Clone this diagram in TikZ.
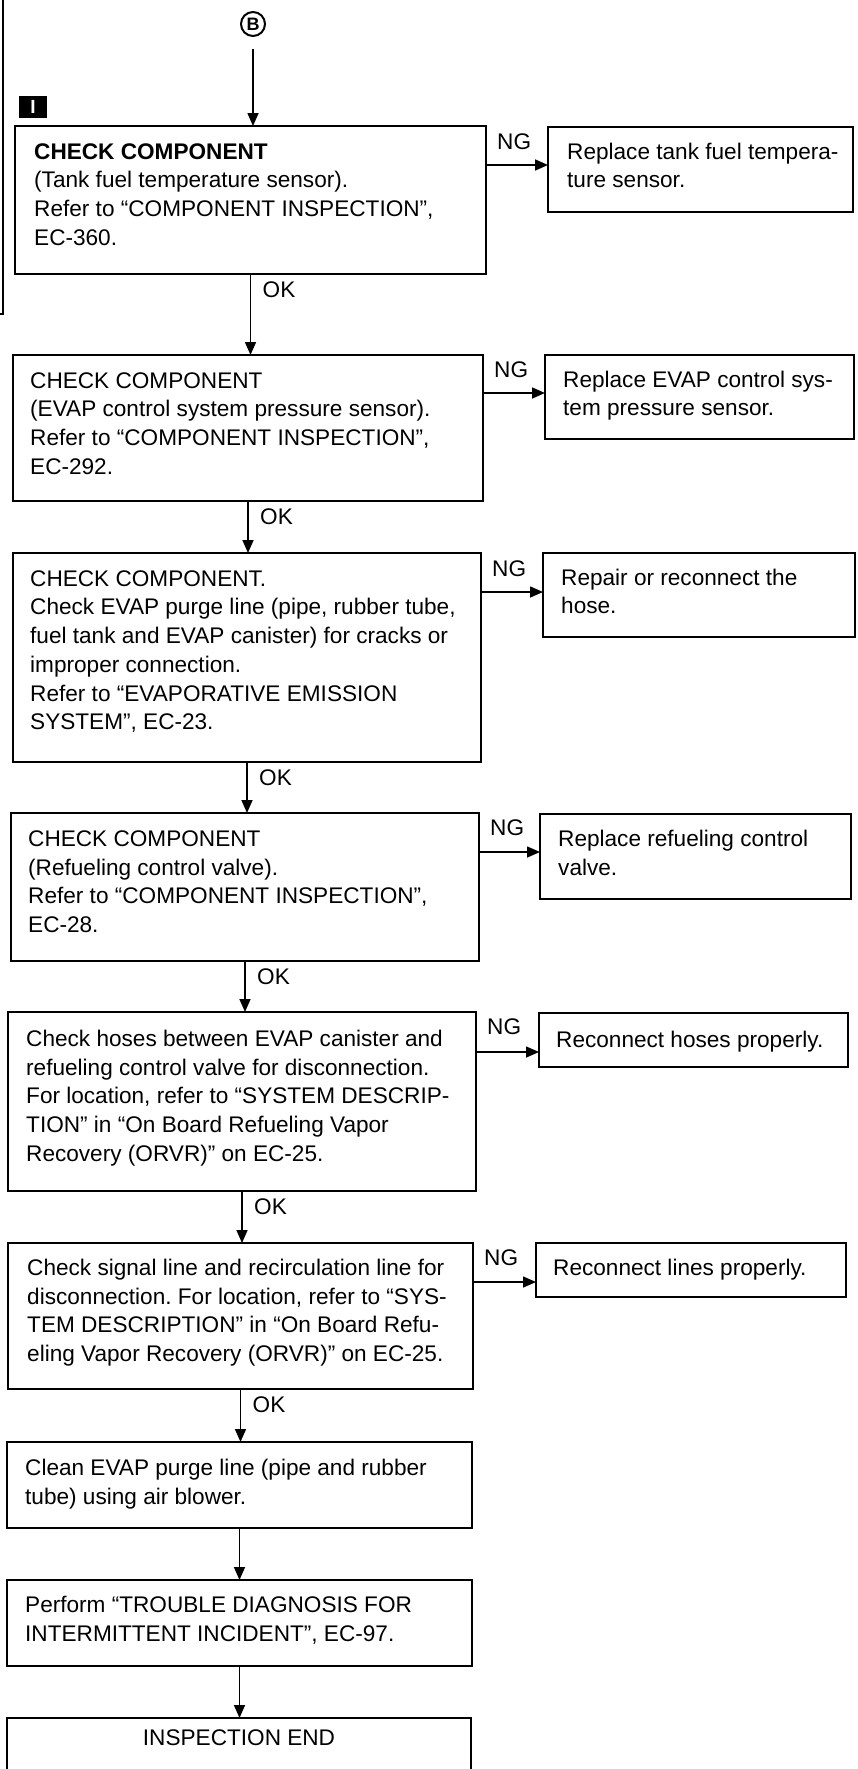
\documentclass[tikz,border=0pt]{standalone}
\usepackage{fontspec}
\setmainfont{Liberation Sans}
\usetikzlibrary{arrows.meta}
\newcommand\mainsz{\fontsize{22.6}{28.7}\selectfont\frenchspacing}
\begin{document}
\begin{tikzpicture}[x=1pt,y=-1pt,
  box/.style={draw, line width=2pt, anchor=north west, inner sep=0pt, outer sep=0pt},
  txt/.style={anchor=north west, align=left, inner sep=0pt, font=\mainsz},
  lbl/.style={inner sep=0pt, font=\mainsz},
  conn/.style={line width=1.6pt, -{Triangle[length=13pt,width=11pt]}}]
\useasboundingbox (0,0) rectangle (858,1769);
\clip (0,0) rectangle (858,1769);

% left bracket
\draw[line width=1.8pt] (0,314) -- (3,314) -- (3,0);

% connector B and marker
\node[circle, draw, line width=2pt, minimum size=24pt, inner sep=0pt,
      font=\fontsize{18}{18}\selectfont\bfseries] (B) at (253,24) {B};
\node[fill=black, minimum width=28pt, minimum height=22pt, inner sep=0pt,
      text=white, font=\fontsize{19}{19}\selectfont\bfseries] (mk) at (33,106.5) {I};

% main boxes
\node[box, minimum width=471pt, minimum height=148pt] (b1) at (15,126) {};
\node[box, minimum width=470pt, minimum height=146pt] (b2) at (13,355) {};
\node[box, minimum width=468pt, minimum height=209pt] (b3) at (13,553) {};
\node[box, minimum width=468pt, minimum height=148pt] (b4) at (11,813) {};
\node[box, minimum width=468pt, minimum height=179pt] (b5) at (8,1012) {};
\node[box, minimum width=465pt, minimum height=146pt] (b6) at (8,1243) {};
\node[box, minimum width=465pt, minimum height=86pt] (b7) at (7,1442) {};
\node[box, minimum width=465pt, minimum height=86pt] (b8) at (7,1580) {};
\node[box, minimum width=464pt, minimum height=110pt] (b9) at (7,1718) {};

% right boxes
\node[box, minimum width=305pt, minimum height=85pt] (r1) at (548,127) {};
\node[box, minimum width=309pt, minimum height=84pt] (r2) at (545,355) {};
\node[box, minimum width=312pt, minimum height=84pt] (r3) at (543,553) {};
\node[box, minimum width=311pt, minimum height=85pt] (r4) at (540,814) {};
\node[box, minimum width=309pt, minimum height=54pt] (r5) at (539,1013) {};
\node[box, minimum width=310pt, minimum height=54pt] (r6) at (536,1243) {};

% texts of main boxes
\node[txt] (t1) at ([xshift=19pt,yshift=-13pt]b1.north west)
  {\strut\textbf{CHECK COMPONENT}\\(Tank fuel temperature sensor).\\Refer to “COMPONENT INSPECTION”,\\EC-360.};
\node[txt] (t2) at ([xshift=17pt,yshift=-13pt]b2.north west)
  {\strut CHECK COMPONENT\\(EVAP control system pressure sensor).\\Refer to “COMPONENT INSPECTION”,\\EC-292.};
\node[txt] (t3) at ([xshift=17pt,yshift=-13pt]b3.north west)
  {\strut CHECK COMPONENT.\\Check EVAP purge line (pipe, rubber tube,\\fuel tank and EVAP canister) for cracks or\\improper connection.\\Refer to “EVAPORATIVE EMISSION\\SYSTEM”, EC-23.};
\node[txt] (t4) at ([xshift=17pt,yshift=-13pt]b4.north west)
  {\strut CHECK COMPONENT\\(Refueling control valve).\\Refer to “COMPONENT INSPECTION”,\\EC-28.};
\node[txt] (t5) at ([xshift=18pt,yshift=-14pt]b5.north west)
  {\strut Check hoses between EVAP canister and\\refueling control valve for disconnection.\\For location, refer to “SYSTEM DESCRIP-\\TION” in “On Board Refueling Vapor\\Recovery (ORVR)” on EC-25.};
\node[txt] (t6) at ([xshift=19pt,yshift=-12pt]b6.north west)
  {\strut Check signal line and recirculation line for\\disconnection. For location, refer to “SYS-\\TEM DESCRIPTION” in “On Board Refu-\\eling Vapor Recovery (ORVR)” on EC-25.};
\node[txt] (t7) at ([xshift=18pt,yshift=-13pt]b7.north west)
  {\strut Clean EVAP purge line (pipe and rubber\\tube) using air blower.};
\node[txt] (t8) at ([xshift=18pt,yshift=-12pt]b8.north west)
  {\strut Perform “TROUBLE DIAGNOSIS FOR\\INTERMITTENT INCIDENT”, EC-97.};
\node[lbl] (t9) at ([yshift=-20pt]b9.north) {INSPECTION END};

% texts of right boxes
\node[txt] (s1) at ([xshift=19pt,yshift=-12pt]r1.north west)
  {\strut Replace tank fuel tempera-\\ture sensor.};
\node[txt] (s2) at ([xshift=18pt,yshift=-12pt]r2.north west)
  {\strut Replace EVAP control sys-\\tem pressure sensor.};
\node[txt] (s3) at ([xshift=18pt,yshift=-12pt]r3.north west)
  {\strut Repair or reconnect the\\hose.};
\node[txt] (s4) at ([xshift=18pt,yshift=-12pt]r4.north west)
  {\strut Replace refueling control\\valve.};
\node[txt] (s5) at ([xshift=17pt,yshift=-14pt]r5.north west)
  {\strut Reconnect hoses properly.};
\node[txt] (s6) at ([xshift=17pt,yshift=-12pt]r6.north west)
  {\strut Reconnect lines properly.};

% vertical connectors
\draw[conn, shorten <=12pt] (B) -- (B |- b1.north);
\draw[conn] (b1.south) -- (b1.south |- b2.north);
\draw[conn] (b2.south) -- (b2.south |- b3.north);
\draw[conn] (b3.south) -- (b3.south |- b4.north);
\draw[conn] (b4.south) -- (b4.south |- b5.north);
\draw[conn] (b5.south) -- (b5.south |- b6.north);
\draw[conn] (b6.south) -- (b6.south |- b7.north);
\draw[conn] (b7.south) -- (b7.south |- b8.north);
\draw[conn] (b8.south) -- (b8.south |- b9.north);

% OK labels
\node[lbl, anchor=west] (ok1) at ([xshift=12pt,yshift=-16pt]b1.south) {OK};
\node[lbl, anchor=west] (ok2) at ([xshift=12pt,yshift=-16pt]b2.south) {OK};
\node[lbl, anchor=west] (ok3) at ([xshift=12pt,yshift=-16pt]b3.south) {OK};
\node[lbl, anchor=west] (ok4) at ([xshift=12pt,yshift=-16pt]b4.south) {OK};
\node[lbl, anchor=west] (ok5) at ([xshift=12pt,yshift=-16pt]b5.south) {OK};
\node[lbl, anchor=west] (ok6) at ([xshift=12pt,yshift=-16pt]b6.south) {OK};

% NG branches
\coordinate (n1) at ([yshift=-39pt]b1.north east);
\coordinate (n2) at ([yshift=-38pt]b2.north east);
\coordinate (n3) at ([yshift=-39pt]b3.north east);
\coordinate (n4) at ([yshift=-39pt]b4.north east);
\coordinate (n5) at ([yshift=-40pt]b5.north east);
\coordinate (n6) at ([yshift=-39pt]b6.north east);
\draw[conn] (n1) -- (n1 -| r1.west);
\draw[conn] (n2) -- (n2 -| r2.west);
\draw[conn] (n3) -- (n3 -| r3.west);
\draw[conn] (n4) -- (n4 -| r4.west);
\draw[conn] (n5) -- (n5 -| r5.west);
\draw[conn] (n6) -- (n6 -| r6.west);
\node[lbl, anchor=west] (ng1) at ([xshift=11pt,yshift=-16pt]b1.north east) {NG};
\node[lbl, anchor=west] (ng2) at ([xshift=11pt,yshift=-15pt]b2.north east) {NG};
\node[lbl, anchor=west] (ng3) at ([xshift=11pt,yshift=-16pt]b3.north east) {NG};
\node[lbl, anchor=west] (ng4) at ([xshift=11pt,yshift=-15pt]b4.north east) {NG};
\node[lbl, anchor=west] (ng5) at ([xshift=11pt,yshift=-15pt]b5.north east) {NG};
\node[lbl, anchor=west] (ng6) at ([xshift=11pt,yshift=-15pt]b6.north east) {NG};
\end{tikzpicture}
\end{document}
